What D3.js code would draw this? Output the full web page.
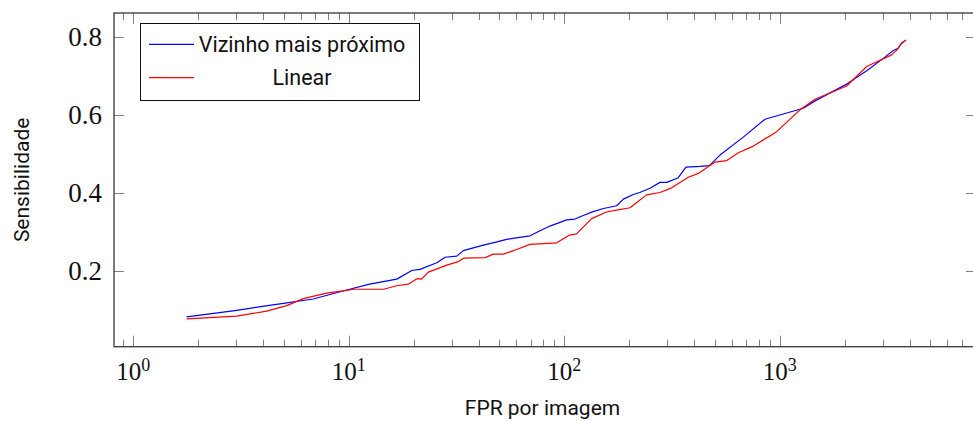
<!DOCTYPE html>
<html><head><meta charset="utf-8">
<script src="https://cdn.jsdelivr.net/npm/d3@7"></script>
<style>
html,body{margin:0;padding:0;background:#fff;}
svg{display:block;}
</style></head>
<body>
<svg id="chart" width="973" height="421"></svg>
<script>
// ---- data ----
const seriesNames = ["Vizinho mais próximo", "Linear"];
const seriesColors = ["#0000ff", "#ff0000"];
const fprNearest = [1.77,3.02,4.97,6.84,9.78,12.5,16.7,19.6,21.4,25.6,28.0,31.7,34.0,42.1,47.7,54.0,69.3,77.2,85.8,102.6,112,122.5,136,152,175,188,209,224,250,278,299,338,367,426,471,528,677,854,1285,1457,2044,2531,3022,3363,3548,3679,3811];
const sensNearest = [0.083,0.100,0.118,0.129,0.152,0.167,0.180,0.202,0.205,0.222,0.236,0.239,0.253,0.267,0.274,0.282,0.291,0.304,0.316,0.332,0.334,0.343,0.353,0.361,0.368,0.385,0.397,0.402,0.413,0.428,0.428,0.440,0.467,0.469,0.471,0.498,0.544,0.590,0.618,0.637,0.680,0.714,0.746,0.766,0.772,0.786,0.791];
const fprLinear = [1.77,3.02,4.16,5.15,6.15,7.90,9.78,10.5,14.5,16.7,18.9,20.7,21.8,23.4,28.5,32.2,34.3,42.9,46.8,52.1,60.1,69.3,92.2,106,114,134,157,175,202,213,241,278,315,376,419,500,567,642,754,967,1241,1457,2044,2531,3306,3488,3613,3770,3852];
const sensLinear = [0.078,0.085,0.098,0.112,0.130,0.144,0.151,0.154,0.154,0.163,0.167,0.181,0.180,0.198,0.216,0.225,0.234,0.235,0.244,0.244,0.256,0.269,0.273,0.293,0.296,0.335,0.352,0.357,0.363,0.373,0.396,0.402,0.414,0.441,0.451,0.480,0.484,0.504,0.521,0.558,0.614,0.641,0.675,0.725,0.755,0.767,0.780,0.789,0.793];
const xMajorTicks = [1, 10, 100, 1000];
const xMajorExp = ["0", "1", "2", "3"];
const yTicks = [0.2, 0.4, 0.6, 0.8];
const yTickLabels = ["0.2", "0.4", "0.6", "0.8"];
const xLabel = "FPR por imagem";
const yLabel = "Sensibilidade";

// ---- layout ----
const L = 114, R = 976, T = 13, B = 346.7;
const svg = d3.select("#chart");
const x = d3.scaleLog().domain([0.814, 8136]).range([L, R]);
const y = d3.scaleLinear().domain([0.0067, 0.8623]).range([B, T]);

const serif = "'Liberation Serif', 'DejaVu Serif', serif";
const sans = "Roboto, 'Open Sans', sans-serif";

// minor ticks
const minor = [];
for (let d = -1; d <= 3; d++) for (let m = 2; m <= 9; m++) {
  const v = m * Math.pow(10, d);
  if (v >= 0.814 && v <= 8136) minor.push(v);
}
const tickG = svg.append("g").attr("stroke", "#808080").attr("stroke-width", 1);
minor.forEach(v => {
  const px = Math.round(x(v)) + 0.5;
  tickG.append("line").attr("x1", px).attr("x2", px).attr("y1", B).attr("y2", B - 7);
  tickG.append("line").attr("x1", px).attr("x2", px).attr("y1", T).attr("y2", T + 7);
});
xMajorTicks.forEach(v => {
  const px = Math.round(x(v)) + 0.5;
  tickG.append("line").attr("x1", px).attr("x2", px).attr("y1", B).attr("y2", B - 11);
  tickG.append("line").attr("x1", px).attr("x2", px).attr("y1", T).attr("y2", T + 11);
});
yTicks.forEach(v => {
  const py = Math.round(y(v)) + 0.5;
  tickG.append("line").attr("x1", L).attr("x2", L + 10).attr("y1", py).attr("y2", py);
  tickG.append("line").attr("x1", R).attr("x2", R - 10).attr("y1", py).attr("y2", py);
});

// frame
svg.append("rect").attr("x", L).attr("y", T).attr("width", R - L).attr("height", B - T)
  .attr("fill", "none").attr("stroke", "#444").attr("stroke-width", 1.4);

// curves
const line = d3.line().x(d => x(d[0])).y(d => y(d[1]));
const dataN = fprNearest.map((v, i) => [v, sensNearest[i]]);
const dataL = fprLinear.map((v, i) => [v, sensLinear[i]]);
svg.append("path").datum(dataN).attr("d", line).attr("fill", "none")
  .attr("stroke", seriesColors[0]).attr("stroke-width", 1.2).attr("stroke-linejoin", "round");
svg.append("path").datum(dataL).attr("d", line).attr("fill", "none")
  .attr("stroke", seriesColors[1]).attr("stroke-width", 1.2).attr("stroke-linejoin", "round");

// x tick labels
xMajorTicks.forEach((v, i) => {
  const t = svg.append("text").attr("x", x(v)).attr("y", 380)
    .attr("text-anchor", "middle").attr("font-family", serif).attr("font-size", 25).attr("fill", "#111");
  t.append("tspan").text("10");
  t.append("tspan").attr("dy", -9).attr("font-size", 18).text(xMajorExp[i]);
});
// y tick labels
yTicks.forEach((v, i) => {
  svg.append("text").attr("x", 102).attr("y", y(v)).attr("dy", "0.33em")
    .attr("text-anchor", "end").attr("font-family", serif).attr("font-size", 27).attr("fill", "#111")
    .text(yTickLabels[i]);
});

// axis labels
svg.append("text").attr("x", (L + 971) / 2).attr("y", 415).attr("text-anchor", "middle")
  .attr("font-family", sans).attr("font-size", 21).attr("fill", "#111").text(xLabel);
svg.append("text").attr("transform", `translate(29,${(T + B) / 2}) rotate(-90)`)
  .attr("text-anchor", "middle").attr("font-family", sans).attr("font-size", 21).attr("fill", "#111").text(yLabel);

// legend
const lg = svg.append("g");
lg.append("rect").attr("x", 140.5).attr("y", 23.5).attr("width", 279).attr("height", 77)
  .attr("fill", "#fff").attr("stroke", "#111").attr("stroke-width", 1);
const rowsY = [44.3, 77.7];
seriesNames.forEach((n, i) => {
  lg.append("line").attr("x1", 149).attr("x2", 194).attr("y1", rowsY[i]).attr("y2", rowsY[i])
    .attr("stroke", seriesColors[i]).attr("stroke-width", 1.2);
  lg.append("text").attr("x", 302).attr("y", rowsY[i]).attr("dy", "0.35em").attr("text-anchor", "middle")
    .attr("font-family", sans).attr("font-size", 21.5).attr("fill", "#111").text(n);
});
</script>
</body></html>
